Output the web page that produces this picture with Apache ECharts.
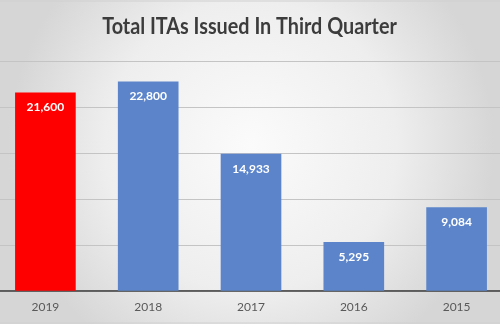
<!DOCTYPE html>
<html>
<head>
<meta charset="utf-8">
<script src="https://cdn.jsdelivr.net/npm/echarts@6/dist/echarts.min.js"></script>
<style>
  html, body { margin: 0; padding: 0; overflow: hidden; background: #e6e6e6; }
  /* the plot runs slightly past both window edges */
  #chart { position: absolute; left: -6px; top: 0; width: 514px; height: 324px; }
</style>
</head>
<body>
<div id="chart"></div>
<script>
// Invitations to Apply issued in the third quarter of each year
const years = ['2019', '2018', '2017', '2016', '2015'];
const itasIssued = [21600, 22800, 14933, 5295, 9084];
const barColors = ['#ff0000', '#5b84ca', '#5b84ca', '#5b84ca', '#5b84ca'];

const chart = echarts.init(document.getElementById('chart'));

chart.setOption({
  backgroundColor: {
    type: 'radial', x: 0.5, y: 0.45, r: 0.75,
    colorStops: [
      { offset: 0, color: '#fbfbfb' },
      { offset: 0.6, color: '#eeeeee' },
      { offset: 1, color: '#d6d6d6' }
    ]
  },
  animation: false,
  graphic: [
    { type: 'line', shape: { x1: 0, y1: 1, x2: 514, y2: 1 }, style: { stroke: '#d0d0d0', lineWidth: 1 } },
    { type: 'line', shape: { x1: 0, y1: 323, x2: 514, y2: 323 }, style: { stroke: '#d0d0d0', lineWidth: 1 } },
    {
      type: 'text',
      x: 255.5, y: 27,
      scaleX: 0.9,
      originX: 0, originY: 0,
      style: {
        text: 'Total ITAs Issued In Third Quarter',
        font: 'bold 22px Lato',
        fill: '#3c3c3c',
        align: 'center',
        verticalAlign: 'middle'
      }
    }
  ],
  grid: { left: 0, right: 0, top: 61.3, bottom: 33.3, containLabel: false },
  xAxis: {
    type: 'category',
    data: years,
    axisTick: { show: false },
    axisLine: { lineStyle: { color: '#3a3a3a', width: 1.5 } },
    axisLabel: {
      color: '#595959',
      fontFamily: 'Lato',
      fontSize: 12,
      margin: 10
    }
  },
  yAxis: {
    type: 'value',
    min: 0,
    max: 25000,
    interval: 5000,
    axisLabel: { show: false },
    axisLine: { show: false },
    axisTick: { show: false },
    splitLine: { lineStyle: { color: '#c4c4c4', width: 1 } }
  },
  series: [{
    type: 'bar',
    data: itasIssued.map((v, i) => ({ value: v, itemStyle: { color: barColors[i] } })),
    barWidth: '59%',
    label: {
      show: true,
      position: 'insideTop',
      distance: 9,
      color: '#ffffff',
      fontFamily: 'Lato',
      fontWeight: 'bold',
      fontSize: 12,
      formatter: p => p.value.toLocaleString('en-US')
    }
  }]
});
</script>
</body>
</html>
